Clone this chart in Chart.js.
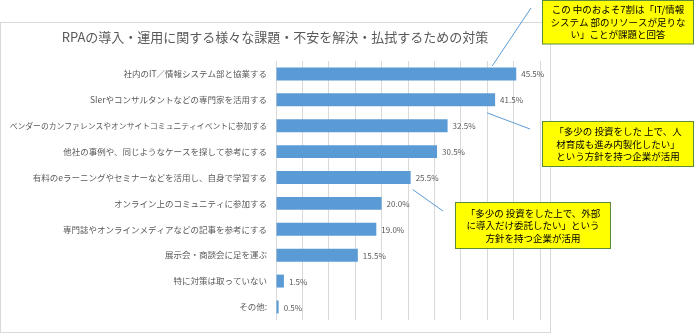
<!DOCTYPE html>
<html lang="ja">
<head>
<meta charset="UTF-8">
<title>RPAの導入・運用に関する対策</title>
<script src="https://cdn.jsdelivr.net/npm/chart.js"></script>
<style>
  html, body { margin: 0; padding: 0; background: #fff; }
  #wrap { width: 699px; height: 334px; }
</style>
</head>
<body>
<div id="wrap"><canvas id="chart" width="699" height="334"></canvas></div>
<script>
// dados do gráfico
const titulo = 'RPAの導入・運用に関する様々な課題・不安を解決・払拭するための対策';
const categorias = [
  '社内のIT／情報システム部と協業する',
  'SIerやコンサルタントなどの専門家を活用する',
  'ベンダーのカンファレンスやオンサイトコミュニティイベントに参加する',
  '他社の事例や、同じようなケースを探して参考にする',
  '有料のeラーニングやセミナーなどを活用し、自身で学習する',
  'オンライン上のコミュニティに参加する',
  '専門誌やオンラインメディアなどの記事を参考にする',
  '展示会・商談会に足を運ぶ',
  '特に対策は取っていない',
  'その他:'
];
const valores = [45.5, 41.5, 32.5, 30.5, 25.5, 20.0, 19.0, 15.5, 1.5, 0.5];
const xMax = 50;
const xPasso = 5;

// textos das caixas amarelas
const nota1 = ['この 中のおよそ7割は「IT/情報', 'システム 部のリソースが足りな', 'い」ことが課題と回答'];
const nota2 = ['「多少の 投資をした 上で、人', '材育成も進み内製化したい」', 'という方針を持つ企業が活用'];
const nota3 = ['「多少の 投資をした上で、外部', 'に導入だけ委託したい」という', '方針を持つ企業が活用'];

const CINZA = '#595959';
const FONTE = "'Noto Sans CJK JP', 'Noto Sans', sans-serif";
Chart.defaults.font.family = FONTE;

// caixas: [x, y, largura, altura], barra de referência e pontas da linha
const notas = [
  { linhas: nota1, caixa: [542.5, 0.5, 151, 43.5], barra: 0, de: [-24, -8], ate: [531, 8] },
  { linhas: nota2, caixa: [542.5, 121.5, 151, 45], barra: 1, de: [-8, 13], ate: [530, 129] },
  { linhas: nota3, caixa: [455.5, 202.5, 155, 46], barra: 4, de: [2, 12], ate: [443, 211] }
];

const moldura = {
  id: 'moldura',
  beforeDraw(chart) {
    const ctx = chart.ctx;
    ctx.save();
    ctx.fillStyle = '#ffffff';
    ctx.fillRect(0, 0, chart.width, chart.height);
    ctx.strokeStyle = '#d9d9d9';
    ctx.lineWidth = 1;
    ctx.strokeRect(0.5, 22.5, 550, 310);
    ctx.fillStyle = CINZA;
    ctx.font = '13px ' + FONTE;
    ctx.textAlign = 'center';
    ctx.textBaseline = 'middle';
    ctx.fillText(titulo, 275, 37);
    ctx.restore();
  },
  afterDatasetsDraw(chart) {
    const ctx = chart.ctx;
    const meta = chart.getDatasetMeta(0);
    ctx.save();
    // rótulos dos valores
    ctx.fillStyle = CINZA;
    ctx.font = '8px ' + FONTE;
    ctx.textAlign = 'left';
    ctx.textBaseline = 'middle';
    meta.data.forEach((bar, i) => {
      ctx.fillText(valores[i].toFixed(1) + '%', bar.x + 5, bar.y + 0.5);
    });
    // linhas e caixas
    notas.forEach(n => {
      const bar = meta.data[n.barra];
      ctx.strokeStyle = '#5b9bd5';
      ctx.lineWidth = 1;
      ctx.beginPath();
      ctx.moveTo(bar.x + n.de[0], bar.y + n.de[1]);
      ctx.lineTo(n.ate[0], n.ate[1]);
      ctx.stroke();

      const [x, y, w, h] = n.caixa;
      ctx.fillStyle = '#ffff00';
      ctx.fillRect(x, y, w, h);
      ctx.strokeStyle = '#5e8a3a';
      ctx.lineWidth = 1;
      ctx.strokeRect(x, y, w, h);
      ctx.fillStyle = '#000000';
      ctx.font = '9.5px ' + FONTE;
      ctx.textAlign = 'center';
      const lh = 12.5;
      const y0 = y + h / 2 - lh * (n.linhas.length - 1) / 2;
      n.linhas.forEach((t, k) => ctx.fillText(t, x + w / 2, y0 + k * lh));
    });
    ctx.restore();
  }
};

new Chart(document.getElementById('chart'), {
  type: 'bar',
  data: {
    labels: categorias,
    datasets: [{
      data: valores,
      backgroundColor: '#5b9bd5',
      borderWidth: 0,
      categoryPercentage: 1,
      barPercentage: 0.5
    }]
  },
  options: {
    indexAxis: 'y',
    responsive: false,
    animation: false,
    events: [],
    layout: { padding: { left: 0, right: 159, top: 61, bottom: 12 } },
    plugins: {
      legend: { display: false },
      tooltip: { enabled: false },
      title: { display: false }
    },
    scales: {
      x: {
        min: 0,
        max: xMax,
        ticks: { display: false, stepSize: xPasso },
        grid: { color: '#d9d9d9', drawTicks: false },
        border: { display: false },
        afterFit(s) { s.height = 0; }
      },
      y: {
        grid: { display: false, drawTicks: false },
        border: { display: false },
        ticks: {
          color: CINZA,
          // o rótulo mais longo precisa caber na moldura
          font: c => ({ size: categorias[c.index] && categorias[c.index].length > 30 ? 7.8 : 8.5 }),
          padding: 9,
          autoSkip: false
        },
        afterFit(s) { s.width = 276; }
      }
    }
  },
  plugins: [moldura]
});
</script>
</body>
</html>
